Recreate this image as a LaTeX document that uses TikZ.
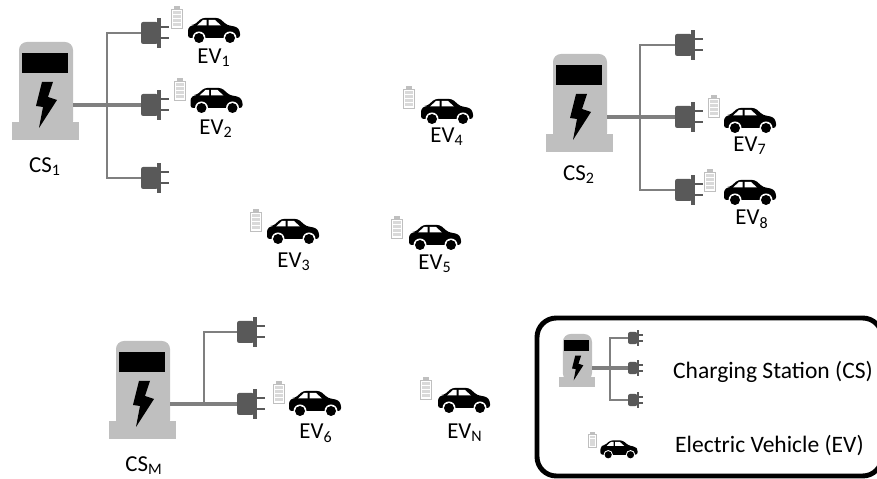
\documentclass[tikz,border=0pt]{standalone}
\usepackage{fontspec}
\setmainfont{Carlito}
\usepackage{tikz}
\usetikzlibrary{math}
\definecolor{csgray}{HTML}{BFBFBF}
\definecolor{wiregray}{HTML}{7F7F7F}
\definecolor{pluggray}{HTML}{595959}
\definecolor{cellgray}{HTML}{D9D9D9}
\tikzstyle{lbl} = [inner sep=0pt, font=\fontsize{13pt}{15pt}\selectfont]
\tikzstyle{lgd} = [inner sep=0pt, font=\fontsize{13.4pt}{16pt}\selectfont]
\tikzstyle{trunk} = [draw=wiregray, line width=1.8pt]
\tikzstyle{branch} = [draw=wiregray, line width=1.1pt]
\tikzset{
  station/.pic={
    \fill[csgray] (-61,17) rectangle (6,35);
    \fill[csgray, rounded corners=4.5pt] (-54,24) -- (-54,-63) -- (0,-63) -- (0,24) -- cycle;
    \fill[black] (-51,-52) rectangle (-5,-32);
    \fill[black] (-31,-23) -- (-20,-23) -- (-25,-8) -- (-16,-5) -- (-34,23) -- (-30,2) -- (-37,1) -- cycle;
  },
  plug/.pic={
    \fill[pluggray, rounded corners=1.2pt] (0,-11) rectangle (17,11);
    \fill[pluggray] (16,-15) rectangle (20,15);
    \fill[pluggray] (20,-6.5) rectangle (28,-4.5);
    \fill[pluggray] (20,4.5) rectangle (28,6.5);
  },
  battery/.pic={
    \draw[csgray, line width=0.5pt, fill=white] (-5.5,-8) rectangle (5.5,11);
    \fill[csgray] (-3,-11) rectangle (3,-8);
    \foreach \y in {-6, -2, 2, 6} {
      \fill[cellgray] (-4,\y) rectangle (4,\y+3);
    }
  },
  car/.pic={
    \fill[black, rounded corners=1.5pt] (-26,8) -- (-26,-2) -- (-22,-5) -- (-20,-5) -- (-12,-12)
      -- (5,-12) -- (13,-5) -- (23,-3) -- (26,1) -- (26,8) -- cycle;
    \fill[white] (-17,-4.5) -- (-11,-10) -- (-7.5,-10) -- (-7.5,-4.5) -- cycle;
    \fill[white] (-5.5,-10) -- (1,-10) -- (7,-4.5) -- (-5.5,-4.5) -- cycle;
    \foreach \x in {-15, 16} {
      \fill[white] (\x,8) circle (6.5);
      \fill[black] (\x,8) circle (5);
    }
  }
}

\begin{document}
\begin{tikzpicture}[x=0.02cm, y=-0.02cm]

  \tikzmath{\pw = 877; \ph = 479;}
  \useasboundingbox (0,0) rectangle (\pw,\ph);
  \clip (0,0) rectangle (\pw,\ph);

  % CS 1
  \pic at (73,105) {station};
  \coordinate (cs1) at (73,105);
  \coordinate (b1) at (107,105);
  \coordinate (p11) at (141,33);
  \coordinate (p12) at (141,105);
  \coordinate (p13) at (141,178);
  \draw[branch] (p11) -| (p13 -| b1) -- (p13);
  \draw[trunk] (cs1) -- (p12);
  \foreach \p in {p11, p12, p13} {
    \pic at (\p) {plug};
  }
  \node[lbl] (cs1lbl) at (45,167) {CS\textsubscript{1}};

  % CS 2
  \pic at (607,117) {station};
  \coordinate (cs2) at (607,117);
  \coordinate (b2) at (640,117);
  \coordinate (p21) at (675,45);
  \coordinate (p22) at (675,117);
  \coordinate (p23) at (675,190);
  \draw[branch] (p21) -| (p23 -| b2) -- (p23);
  \draw[trunk] (cs2) -- (p22);
  \foreach \p in {p21, p22, p23} {
    \pic at (\p) {plug};
  }
  \node[lbl] (cs2lbl) at (579,175) {CS\textsubscript{2}};

  % CS M
  \pic at (170,404) {station};
  \coordinate (csm) at (170,404);
  \coordinate (bm) at (204,404);
  \coordinate (pm1) at (237,332);
  \coordinate (pm2) at (237,404);
  \draw[branch] (pm1) -| (bm);
  \draw[trunk] (csm) -- (pm2);
  \foreach \p in {pm1, pm2} {
    \pic at (\p) {plug};
  }
  \node[lbl] (csmlbl) at (144,466) {CS\textsubscript{M}};

  % EVs
  \foreach \cx/\cy/\bx/\by/\lx/\ly/\t in {
    214/30/176.5/17/214/58/1,
    216.5/100/180/89/216/129/2,
    293/231/256/220/294/262/3,
    447/111/409/97/447/137/4,
    435/237/397/227/435/264/5,
    315/403/279/392/316/433/6,
    750/120/714/106/750/146/7,
    750/192/710/180/752/219/8,
    464/400/426/388/465/433/N} {
    \pic at (\cx,\cy) {car};
    \pic at (\bx,\by) {battery};
    \node[lbl] (ev\t) at (\lx,\ly) {EV\textsubscript{\t}};
  }

  % legend
  \draw[line width=2.8pt, rounded corners=11pt] (537,318) rectangle (882,476);
  \pic[scale=0.54] at (592,368) {station};
  \coordinate (csl) at (592,368);
  \coordinate (bl) at (610,368);
  \coordinate (pl1) at (628,338);
  \coordinate (pl2) at (628,368);
  \coordinate (pl3) at (628,400);
  \draw[branch] (pl1) -| (pl3 -| bl) -- (pl3);
  \draw[trunk] (csl) -- (pl2);
  \foreach \p in {pl1, pl2, pl3} {
    \pic[scale=0.55] at (\p) {plug};
  }
  \pic[scale=0.72] at (619,449) {car};
  \pic[scale=0.72] at (592.5,440) {battery};
  \node[lgd] (lcs) at (773,372) {Charging Station (CS)};
  \node[lgd] (lev) at (769.5,446) {Electric Vehicle (EV)};

\end{tikzpicture}
\end{document}
